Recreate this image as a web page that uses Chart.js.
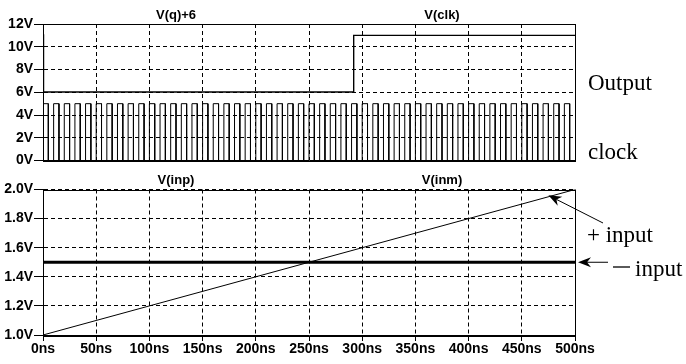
<!DOCTYPE html>
<html>
<head>
<meta charset="utf-8">
<script src="https://cdn.jsdelivr.net/npm/chart.js@4"></script>
<style>
  html, body { margin: 0; padding: 0; background: #fff; }
  #wrap { position: relative; width: 686px; height: 364px; overflow: hidden; }
  canvas { position: absolute; left: 0; }
  #top { top: 0; }
  #bot { top: 170px; }
</style>
</head>
<body>
<div id="wrap">
  <canvas id="top" width="686" height="170"></canvas>
  <canvas id="bot" width="686" height="194"></canvas>
</div>
<script>
// ---- time axis (ns) ----
const timeMinNs = 0;
const timeMaxNs = 500;
const timeStepNs = 50;

// ---- top pane: output and clock (V) ----
const topTicksV = [0, 2, 4, 6, 8, 10, 12];
const qTimeNs  = [0, 0.5, 292, 292, 500];
const qPlus6V  = [11.1, 6.03, 6.03, 11.0, 11.0];
const clkRiseNs = [0, 10, 20, 30, 40, 50, 60, 70, 80, 90,
                   100, 110, 120, 130, 140, 150, 160, 170, 180, 190,
                   200, 210, 220, 230, 240, 250, 260, 270, 280, 290,
                   300, 310, 320, 330, 340, 350, 360, 370, 380, 390,
                   400, 410, 420, 430, 440, 450, 460, 470, 480, 490];
const clkFallNs = [5, 15, 25, 35, 45, 55, 65, 75, 85, 95,
                   105, 115, 125, 135, 145, 155, 165, 175, 185, 195,
                   205, 215, 225, 235, 245, 255, 265, 275, 285, 295,
                   305, 315, 325, 335, 345, 355, 365, 375, 385, 395,
                   405, 415, 425, 435, 445, 455, 465, 475, 485, 495];
const clkLevelsV = [0, 5];

// ---- bottom pane: comparator inputs (V) ----
const botTicksV = [1.0, 1.2, 1.4, 1.6, 1.8, 2.0];
const inpTimeNs = [0, 500];
const inpV      = [1.0, 2.0];
const inmTimeNs = [0, 500];
const inmV      = [1.5, 1.5];

// ---- helpers ----
const zip = (xs, ys) => xs.map((x, i) => ({ x: x, y: ys[i] }));

function clockPoints() {
  const [lo, hi] = clkLevelsV;
  const pts = [];
  clkRiseNs.forEach((r, i) => {
    const f = clkFallNs[i];
    pts.push({ x: r, y: lo }, { x: r, y: hi }, { x: f, y: hi }, { x: f, y: lo });
  });
  pts.push({ x: timeMaxNs, y: lo });
  return pts;
}

const TICK_FONT = { family: '"Liberation Sans", Arial, sans-serif', size: 14, weight: 'bold' };
const SERIF = '23px "Liberation Serif", "Times New Roman", serif';

// frame around the plot area plus the trace names above it
function paneDecor(names) {
  return {
    id: 'paneDecor',
    afterDatasetsDraw(chart) {
      const { ctx, chartArea: a } = chart;
      ctx.save();
      ctx.strokeStyle = '#000';
      ctx.lineWidth = 1;
      ctx.setLineDash([]);
      ctx.strokeRect(Math.round(a.left) + 0.5, Math.round(a.top) + 0.5,
                     Math.round(a.right - a.left), Math.round(a.bottom - a.top));
      ctx.fillStyle = '#000';
      ctx.font = 'bold 13px "Liberation Sans", Arial, sans-serif';
      ctx.textAlign = 'center';
      ctx.textBaseline = 'middle';
      const w = a.right - a.left;
      names.forEach((n, i) => {
        ctx.fillText(n, a.left + w * (2 * i + 1) / (2 * names.length), a.top - 9);
      });
      ctx.restore();
    }
  };
}

function arrow(ctx, x1, y1, x2, y2) {
  // shaft from (x1,y1) to tip (x2,y2) with a barbed head
  const ang = Math.atan2(y2 - y1, x2 - x1);
  const len = 13, half = 5, back = 9;
  ctx.beginPath();
  ctx.moveTo(x1, y1);
  ctx.lineTo(x2 - Math.cos(ang) * back, y2 - Math.sin(ang) * back);
  ctx.stroke();
  const bx = x2 - Math.cos(ang) * len, by = y2 - Math.sin(ang) * len;
  const nx = -Math.sin(ang), ny = Math.cos(ang);
  ctx.beginPath();
  ctx.moveTo(x2, y2);
  ctx.lineTo(bx + nx * half, by + ny * half);
  ctx.lineTo(x2 - Math.cos(ang) * back, y2 - Math.sin(ang) * back);
  ctx.lineTo(bx - nx * half, by - ny * half);
  ctx.closePath();
  ctx.fill();
}

const topNotes = {
  id: 'topNotes',
  afterDraw(chart) {
    const { ctx } = chart;
    ctx.save();
    ctx.fillStyle = '#000';
    ctx.font = SERIF;
    ctx.textAlign = 'left';
    ctx.textBaseline = 'alphabetic';
    ctx.fillText('Output', 588, 90);
    ctx.fillText('clock', 588, 159);
    ctx.restore();
  }
};

const botNotes = {
  id: 'botNotes',
  afterDraw(chart) {
    const { ctx, scales: { x, y } } = chart;
    ctx.save();
    ctx.fillStyle = '#000';
    ctx.strokeStyle = '#000';
    ctx.lineWidth = 1;
    // + input arrow points at the ramp near its end
    const tipX = x.getPixelForValue(475), tipY = y.getPixelForValue(1.96);
    arrow(ctx, 603, 53, tipX, tipY);
    // - input arrow points at the flat reference level
    const refY = y.getPixelForValue(inmV[0]);
    arrow(ctx, 608, refY, x.right + 3, refY);
    ctx.font = SERIF;
    ctx.textAlign = 'left';
    ctx.textBaseline = 'alphabetic';
    ctx.fillText('+ input', 587, 72);
    ctx.fillText('input', 635, 106);
    ctx.beginPath();
    ctx.lineWidth = 1.3;
    ctx.moveTo(613, 97);
    ctx.lineTo(630, 97);
    ctx.stroke();
    ctx.restore();
  }
};

function xAxis(showLabels, h) {
  return {
    type: 'linear',
    min: timeMinNs, max: timeMaxNs,
    afterFit: s => { s.height = h; },
    afterBuildTicks: s => {
      const t = [];
      for (let v = timeMinNs; v <= timeMaxNs; v += timeStepNs) t.push({ value: v });
      s.ticks = t;
    },
    grid: {
      color: '#000', lineWidth: 1,
      drawTicks: showLabels, tickLength: 6, tickBorderDash: [], tickColor: '#000'
    },
    border: { display: true, color: '#000', dash: [4, 3] },
    ticks: {
      display: showLabels, color: '#000', font: TICK_FONT, padding: 0,
      maxRotation: 0, autoSkip: false,
      callback: v => v + 'ns'
    }
  };
}

function yAxis(values, fmt) {
  return {
    type: 'linear',
    min: values[0], max: values[values.length - 1],
    afterFit: s => { s.width = 43; },
    afterBuildTicks: s => { s.ticks = values.map(v => ({ value: v })); },
    grid: {
      color: '#000', lineWidth: 1,
      drawTicks: true, tickLength: 9, tickBorderDash: [], tickColor: '#000'
    },
    border: { display: true, color: '#000', dash: [4, 3] },
    ticks: { color: '#000', font: TICK_FONT, padding: 1, autoSkip: false, callback: fmt }
  };
}

const lineDefaults = {
  borderColor: '#000', borderWidth: 1, pointRadius: 0, fill: false, tension: 0
};

Chart.defaults.animation = false;

new Chart(document.getElementById('top'), {
  type: 'line',
  data: {
    datasets: [
      Object.assign({ label: 'V(q)+6', data: zip(qTimeNs, qPlus6V), borderWidth: 1.4 },
                    { borderColor: '#000', pointRadius: 0, fill: false, tension: 0 }),
      Object.assign({ label: 'V(clk)', data: clockPoints() }, lineDefaults)
    ]
  },
  options: {
    responsive: false,
    parsing: false,
    layout: { padding: { left: 0, right: 111, top: 24, bottom: 0 } },
    plugins: { legend: { display: false }, tooltip: { enabled: false } },
    scales: {
      x: xAxis(false, 3),
      y: yAxis(topTicksV, v => v + 'V')
    }
  },
  plugins: [paneDecor(['V(q)+6', 'V(clk)']), topNotes]
});

new Chart(document.getElementById('bot'), {
  type: 'line',
  data: {
    datasets: [
      Object.assign({ label: 'V(inp)', data: zip(inpTimeNs, inpV) }, lineDefaults),
      Object.assign({ label: 'V(inm)', data: zip(inmTimeNs, inmV), borderWidth: 3 },
                    { borderColor: '#000', pointRadius: 0, fill: false, tension: 0 })
    ]
  },
  options: {
    responsive: false,
    parsing: false,
    layout: { padding: { left: 0, right: 111, top: 19.5, bottom: 0 } },
    plugins: { legend: { display: false }, tooltip: { enabled: false } },
    scales: {
      x: xAxis(true, 29),
      y: yAxis(botTicksV, v => v.toFixed(1) + 'V')
    }
  },
  plugins: [paneDecor(['V(inp)', 'V(inm)']), botNotes]
});
</script>
</body>
</html>
